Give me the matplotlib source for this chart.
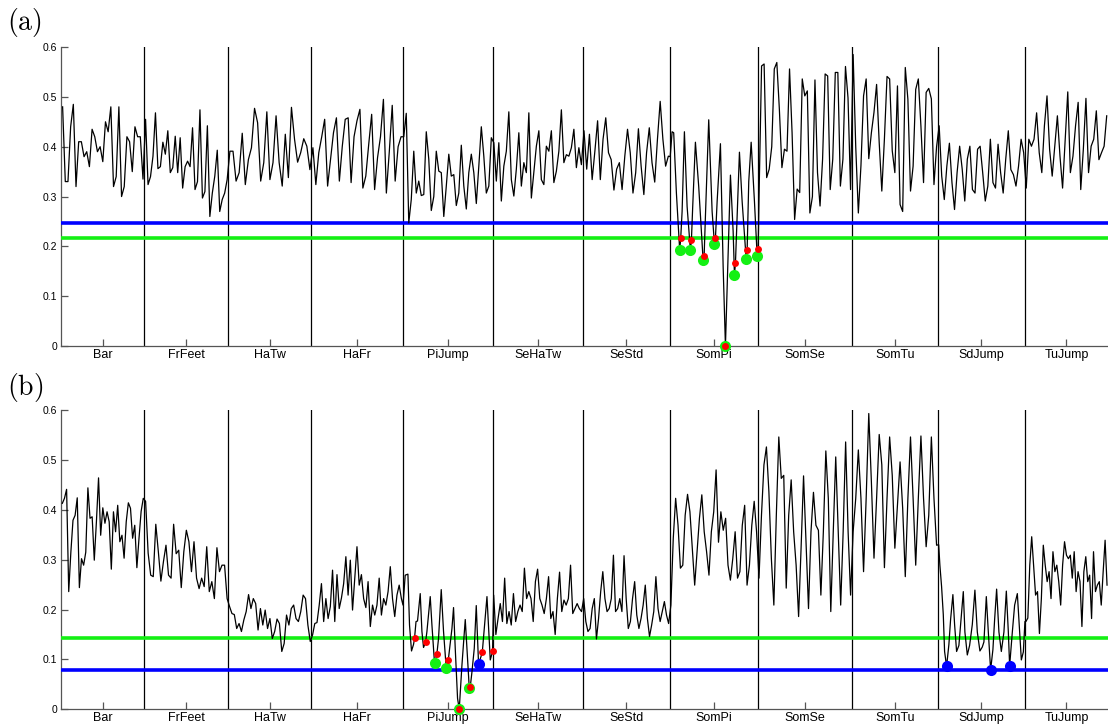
import matplotlib
matplotlib.use("Agg")
import matplotlib.pyplot as plt
import numpy as np

plt.rcParams["font.family"] = ["Liberation Sans", "DejaVu Sans"]
plt.rcParams["mathtext.fontset"] = "cm"

# ─── categories / segment lengths (frames) ───
labels = ["Bar", "FrFeet", "HaTw", "HaFr", "PiJump", "SeHaTw", "SeStd",
          "SomPi", "SomSe", "SomTu", "SdJump", "TuJump"]
seg_len = [83, 84, 83, 91, 90, 90, 87, 88, 94, 86, 87, 83]

# ─── panel (a) series, per segment ───
a_Bar = [0.48, 0.33, 0.33, 0.44, 0.485, 0.32, 0.41, 0.41, 0.38, 0.39, 0.36, 0.435, 0.42, 0.39, 0.40, 0.37,
         0.45, 0.43, 0.48, 0.32, 0.34, 0.48, 0.30, 0.32, 0.42, 0.41, 0.35, 0.44, 0.42, 0.42, 0.335]
a_FrFeet = [0.455, 0.324, 0.34, 0.381, 0.468, 0.356, 0.36, 0.409, 0.385, 0.432, 0.348, 0.358, 0.421, 0.348,
            0.418, 0.317, 0.36, 0.371, 0.36, 0.438, 0.314, 0.33, 0.474, 0.297, 0.31, 0.442, 0.26, 0.307,
            0.341, 0.393, 0.27, 0.294, 0.307, 0.334]
a_HaTw = [0.391, 0.391, 0.331, 0.348, 0.427, 0.324, 0.374, 0.398, 0.477, 0.448, 0.331, 0.368, 0.470, 0.334,
          0.368, 0.462, 0.368, 0.321, 0.425, 0.338, 0.479, 0.415, 0.369, 0.388, 0.416, 0.401, 0.354]
a_HaFr = [0.398, 0.324, 0.388, 0.420, 0.455, 0.321, 0.374, 0.428, 0.458, 0.331, 0.401, 0.455, 0.458, 0.328,
          0.420, 0.452, 0.475, 0.317, 0.341, 0.405, 0.465, 0.314, 0.378, 0.42, 0.495, 0.307, 0.39, 0.483,
          0.331, 0.40, 0.42]
a_PiJump = [0.42, 0.467, 0.247, 0.294, 0.391, 0.307, 0.331, 0.302, 0.304, 0.43, 0.375, 0.272, 0.30, 0.391,
            0.351, 0.348, 0.26, 0.321, 0.385, 0.341, 0.344, 0.282, 0.307, 0.403, 0.321, 0.275, 0.348, 0.385,
            0.348, 0.286, 0.361, 0.44, 0.381, 0.307, 0.321, 0.418]
a_SeHaTw = [0.408, 0.331, 0.408, 0.291, 0.361, 0.391, 0.470, 0.334, 0.301, 0.355, 0.428, 0.321, 0.368, 0.348,
            0.468, 0.297, 0.348, 0.401, 0.432, 0.334, 0.324, 0.401, 0.391, 0.432, 0.328, 0.351, 0.391, 0.474,
            0.368, 0.384, 0.381, 0.398, 0.435, 0.358, 0.398, 0.364]
a_SeStd = [0.432, 0.355, 0.425, 0.334, 0.391, 0.452, 0.334, 0.415, 0.458, 0.388, 0.374, 0.313, 0.355, 0.368,
           0.314, 0.381, 0.435, 0.388, 0.307, 0.348, 0.436, 0.361, 0.304, 0.388, 0.438, 0.368, 0.329, 0.415,
           0.491, 0.415, 0.361, 0.381]
# SomPi (a) has explicit frames so the marked minima sit on the trace
a_SomPi_f = [608.5, 610.4, 612.0, 614.7, 618.0, 619.0, 620.4, 622.7, 625.4, 628.7, 629.7, 631.0, 633.7, 637.0,
             641.4, 642.4, 643.7, 647.0, 650.4, 652.7, 653.7, 655.4, 658.7, 661.4, 663.7, 666.0, 668.7, 671.4,
             672.7, 673.7, 675.4, 677.7, 680.4, 684.4, 685.4, 687.0, 689.4, 692.7, 695.4, 696.4]
a_SomPi = [0.38, 0.43, 0.428, 0.307, 0.192, 0.216, 0.27, 0.43, 0.28, 0.192, 0.212, 0.28, 0.409, 0.32,
           0.172, 0.18, 0.26, 0.454, 0.27, 0.205, 0.216, 0.29, 0.406, 0.16, 0.0, 0.16, 0.343, 0.23,
           0.143, 0.166, 0.26, 0.389, 0.29, 0.175, 0.193, 0.33, 0.409, 0.29, 0.181, 0.195]
a_SomSe = [0.30, 0.562, 0.566, 0.338, 0.355, 0.40, 0.556, 0.569, 0.475, 0.358, 0.395, 0.391, 0.556, 0.428,
           0.254, 0.315, 0.308, 0.536, 0.502, 0.512, 0.267, 0.30, 0.534, 0.348, 0.281, 0.375, 0.546, 0.542,
           0.314, 0.375, 0.549, 0.549, 0.321, 0.375, 0.561, 0.498, 0.314]
a_SomTu = [0.585, 0.40, 0.267, 0.362, 0.502, 0.536, 0.376, 0.428, 0.469, 0.525, 0.408, 0.311, 0.416, 0.541,
           0.536, 0.392, 0.348, 0.522, 0.284, 0.270, 0.559, 0.495, 0.311, 0.361, 0.515, 0.536, 0.441, 0.328,
           0.509, 0.517, 0.496, 0.324, 0.40]
a_SdJump = [0.442, 0.341, 0.294, 0.361, 0.407, 0.328, 0.274, 0.348, 0.401, 0.355, 0.291, 0.375, 0.401, 0.314,
            0.307, 0.395, 0.401, 0.348, 0.291, 0.321, 0.415, 0.328, 0.317, 0.405, 0.348, 0.307, 0.375, 0.432,
            0.354, 0.344, 0.321, 0.361, 0.415, 0.388]
a_TuJump = [0.317, 0.415, 0.401, 0.415, 0.468, 0.388, 0.348, 0.442, 0.502, 0.395, 0.341, 0.401, 0.462, 0.381,
            0.317, 0.415, 0.510, 0.348, 0.381, 0.442, 0.489, 0.314, 0.395, 0.497, 0.348, 0.401, 0.415, 0.472,
            0.374, 0.388, 0.401, 0.462]

a_thr_blue = 0.246
a_thr_green = 0.216
a_green_f = [618.0, 628.7, 641.4, 652.7, 663.7, 672.7, 684.4, 695.4]
a_green_v = [0.192, 0.192, 0.172, 0.205, 0.0, 0.143, 0.175, 0.181]
a_red_f = [619.0, 629.7, 642.4, 653.7, 663.7, 673.7, 685.4, 696.4]
a_red_v = [0.216, 0.212, 0.18, 0.216, 0.0, 0.166, 0.193, 0.195]

# ─── panel (b) series, per segment ───
b_Bar = [0.413, 0.423, 0.441, 0.236, 0.315, 0.379, 0.389, 0.424, 0.244, 0.302, 0.289, 0.315, 0.444, 0.383,
         0.386, 0.299, 0.376, 0.464, 0.349, 0.404, 0.373, 0.396, 0.376, 0.281, 0.396, 0.356, 0.409, 0.336,
         0.349, 0.303, 0.376, 0.414, 0.403, 0.343, 0.369, 0.284, 0.343, 0.397, 0.423]
b_FrFeet = [0.417, 0.313, 0.269, 0.266, 0.371, 0.316, 0.257, 0.296, 0.329, 0.269, 0.263, 0.371, 0.312, 0.319,
            0.244, 0.316, 0.359, 0.336, 0.276, 0.336, 0.263, 0.242, 0.263, 0.246, 0.326, 0.236, 0.256, 0.222,
            0.324, 0.276, 0.289, 0.289, 0.222]
b_HaTw = [0.206, 0.192, 0.190, 0.162, 0.172, 0.156, 0.179, 0.196, 0.230, 0.202, 0.222, 0.212, 0.159, 0.202,
          0.169, 0.199, 0.162, 0.182, 0.142, 0.156, 0.181, 0.172, 0.116, 0.132, 0.189, 0.169, 0.202, 0.209,
          0.182, 0.176, 0.196, 0.229, 0.222, 0.169, 0.136]
b_HaFr = [0.149, 0.172, 0.174, 0.209, 0.252, 0.176, 0.222, 0.182, 0.206, 0.279, 0.176, 0.270, 0.202, 0.223,
          0.252, 0.306, 0.229, 0.299, 0.199, 0.262, 0.326, 0.249, 0.270, 0.222, 0.204, 0.256, 0.166,
          0.209, 0.189, 0.209, 0.263, 0.189, 0.222, 0.209, 0.236, 0.286, 0.222, 0.186, 0.229, 0.249, 0.222]
b_PiJump_f = [341.5, 343.7, 346.4, 348.0, 350.0, 352.0, 353.0, 354.5, 356.0, 358.7, 360.4, 362.0, 364.0, 365.4,
              368.7, 370.4, 373.0, 375.3, 377.0, 379.7, 382.0, 384.7, 386.7, 390.4, 392.0, 393.7, 396.0, 397.7,
              400.4, 403.7, 405.4, 407.7, 408.7, 410.4, 412.7, 414.7, 417.0, 420.7, 425.4, 428.7, 431.0]
b_PiJump = [0.209, 0.269, 0.271, 0.169, 0.117, 0.130, 0.142, 0.176, 0.177, 0.232, 0.156, 0.124, 0.134, 0.156,
            0.226, 0.169, 0.092, 0.110, 0.142, 0.240, 0.156, 0.082, 0.098, 0.162, 0.204, 0.122, 0.022, 0.0,
            0.089, 0.180, 0.122, 0.043, 0.045, 0.075, 0.122, 0.208, 0.090, 0.114, 0.226, 0.099, 0.116]
b_SeHaTw = [0.229, 0.150, 0.182, 0.212, 0.176, 0.263, 0.172, 0.196, 0.169, 0.232, 0.176, 0.196, 0.209, 0.196,
            0.283, 0.222, 0.236, 0.222, 0.176, 0.256, 0.281, 0.222, 0.209, 0.192, 0.222, 0.266, 0.182, 0.196,
            0.150, 0.222, 0.275, 0.196, 0.219, 0.209, 0.222, 0.289, 0.192, 0.202, 0.212, 0.202, 0.196]
b_SeStd = [0.222, 0.176, 0.156, 0.162, 0.202, 0.222, 0.141, 0.182, 0.236, 0.276, 0.222, 0.196, 0.202, 0.222,
           0.309, 0.196, 0.202, 0.222, 0.196, 0.308, 0.222, 0.162, 0.176, 0.222, 0.256, 0.189, 0.162, 0.182,
           0.209, 0.249, 0.182, 0.146, 0.169, 0.196, 0.266, 0.202, 0.176, 0.196, 0.216, 0.189, 0.172]
b_SomPi = [0.209, 0.343, 0.423, 0.369, 0.283, 0.289, 0.389, 0.431, 0.396, 0.323, 0.249, 0.316, 0.383, 0.430,
           0.356, 0.316, 0.269, 0.356, 0.396, 0.480, 0.335, 0.396, 0.359, 0.383, 0.289, 0.259, 0.302, 0.356,
           0.263, 0.276, 0.369, 0.409, 0.249, 0.289, 0.369, 0.417, 0.356]
b_SomSe = [0.263, 0.389, 0.490, 0.526, 0.436, 0.302, 0.209, 0.389, 0.546, 0.463, 0.469, 0.243, 0.389, 0.460,
           0.356, 0.289, 0.186, 0.323, 0.468, 0.336, 0.202, 0.356, 0.435, 0.369, 0.359, 0.229, 0.356, 0.518,
           0.423, 0.196, 0.356, 0.506, 0.356, 0.209, 0.356, 0.536, 0.356, 0.229]
b_SomTu = [0.356, 0.423, 0.520, 0.423, 0.276, 0.423, 0.593, 0.456, 0.303, 0.423, 0.551, 0.490, 0.284, 0.423,
           0.546, 0.469, 0.323, 0.409, 0.496, 0.403, 0.266, 0.423, 0.546, 0.423, 0.289, 0.423, 0.548, 0.423,
           0.326, 0.389, 0.546, 0.423, 0.329]
b_SdJump_f = [876.8, 878.0, 879.7, 881.4, 882.7, 884.7, 887.0, 888.7, 891.0, 892.7, 894.7, 897.0, 898.7, 901.4,
              903.0, 905.4, 907.7, 910.4, 913.0, 915.4, 918.0, 920.4, 922.0, 924.4, 926.4, 928.7, 931.0, 932.7,
              934.7, 937.0, 939.4, 942.0, 944.4, 946.4, 947.7, 950.4, 952.7, 955.4, 957.7, 959.4, 961.4, 963.0]
b_SdJump = [0.33, 0.289, 0.246, 0.19, 0.116, 0.086, 0.13, 0.18, 0.230, 0.17, 0.116, 0.128, 0.17, 0.236,
            0.155, 0.109, 0.128, 0.17, 0.239, 0.155, 0.117, 0.125, 0.135, 0.226, 0.155, 0.079, 0.12, 0.18,
            0.241, 0.155, 0.116, 0.155, 0.237, 0.155, 0.087, 0.155, 0.209, 0.232, 0.155, 0.099, 0.115, 0.176]
b_TuJump = [0.176, 0.183, 0.289, 0.346, 0.289, 0.229, 0.236, 0.152, 0.222, 0.329, 0.289, 0.256, 0.276, 0.222,
            0.316, 0.276, 0.289, 0.256, 0.209, 0.289, 0.336, 0.309, 0.302, 0.309, 0.263, 0.316, 0.236, 0.276,
            0.256, 0.166, 0.276, 0.306, 0.256, 0.269, 0.182, 0.316, 0.236, 0.249, 0.256, 0.209, 0.276, 0.339,
            0.249]

b_thr_green = 0.142
b_thr_blue = 0.079
b_red_f = [353.0, 364.0, 375.3, 386.7, 397.7, 408.7, 420.7, 431.0]
b_red_v = [0.142, 0.134, 0.110, 0.098, 0.0, 0.045, 0.114, 0.116]
b_green_f = [373.0, 384.7, 397.7, 407.7]
b_green_v = [0.092, 0.082, 0.0, 0.043]
b_blue_f = [417.0, 884.7, 928.7, 947.7]
b_blue_v = [0.090, 0.086, 0.079, 0.087]

bounds = np.concatenate([[0], np.cumsum(seg_len)])
centers = (bounds[:-1] + bounds[1:]) / 2


def build(segs, explicit):
    xs, ys = [], []
    for i, vals in enumerate(segs):
        if i in explicit:
            x = np.array(explicit[i])
        else:
            n = len(vals)
            x = bounds[i] + (np.arange(n) + 0.5) * (bounds[i + 1] - bounds[i]) / n
        xs.append(x)
        ys.append(np.array(vals))
    return np.concatenate(xs), np.concatenate(ys)


xa, ya = build([a_Bar, a_FrFeet, a_HaTw, a_HaFr, a_PiJump, a_SeHaTw, a_SeStd,
                a_SomPi, a_SomSe, a_SomTu, a_SdJump, a_TuJump], {7: a_SomPi_f})
xb, yb = build([b_Bar, b_FrFeet, b_HaTw, b_HaFr, b_PiJump, b_SeHaTw, b_SeStd,
                b_SomPi, b_SomSe, b_SomTu, b_SdJump, b_TuJump], {4: b_PiJump_f, 10: b_SdJump_f})

fig = plt.figure(figsize=(11.08, 7.27), dpi=100)
ax_a = fig.add_axes([0.0553, 0.524, 0.9447, 0.4113])
ax_b = fig.add_axes([0.0553, 0.0243, 0.9447, 0.4117])

GREEN = "#14f014"
BLUE = "#0000ff"
RED = "#ff0000"


def style(ax):
    ax.set_xlim(0, bounds[-1])
    ax.set_ylim(0, 0.6)
    for b in bounds[1:-1]:
        ax.axvline(b, color="black", lw=0.9, zorder=2)
    ax.spines["top"].set_visible(False)
    ax.spines["right"].set_visible(False)
    for s in ("left", "bottom"):
        ax.spines[s].set_color("#555555")
        ax.spines[s].set_linewidth(0.9)
    ax.set_xticks(centers)
    ax.set_xticklabels(labels, fontsize=9)
    ax.set_yticks(np.arange(0, 0.61, 0.1))
    ax.set_yticklabels(["0", "0.1", "0.2", "0.3", "0.4", "0.5", "0.6"], fontsize=7.5)
    ax.tick_params(direction="in", length=5, width=0.9, color="#555555", pad=3)
    ax.tick_params(axis="x", pad=2)


# (a)
style(ax_a)
ax_a.axhline(a_thr_blue, color=BLUE, lw=2.6, zorder=3)
ax_a.axhline(a_thr_green, color=GREEN, lw=2.6, zorder=3)
ax_a.plot(xa, ya, color="black", lw=0.9, zorder=4, solid_joinstyle="round")
ax_a.plot(a_green_f, a_green_v, "o", color=GREEN, ms=8, mec="none", zorder=5, clip_on=False)
ax_a.plot(a_red_f, a_red_v, "o", color=RED, ms=5, mec="none", zorder=6, clip_on=False)

# (b)
style(ax_b)
ax_b.axhline(b_thr_green, color=GREEN, lw=2.6, zorder=3)
ax_b.axhline(b_thr_blue, color=BLUE, lw=2.6, zorder=3)
ax_b.plot(xb, yb, color="black", lw=0.9, zorder=4, solid_joinstyle="round")
ax_b.plot(b_green_f, b_green_v, "o", color=GREEN, ms=8, mec="none", zorder=5, clip_on=False)
ax_b.plot(b_blue_f, b_blue_v, "o", color=BLUE, ms=8, mec="none", zorder=5, clip_on=False)
ax_b.plot(b_red_f, b_red_v, "o", color=RED, ms=5, mec="none", zorder=6, clip_on=False)

fig.text(0.006, 0.947, r"$\mathrm{(a)}$", fontsize=20, va="bottom")
fig.text(0.006, 0.444, r"$\mathrm{(b)}$", fontsize=20, va="bottom")

fig.savefig("out.png", dpi=100)
